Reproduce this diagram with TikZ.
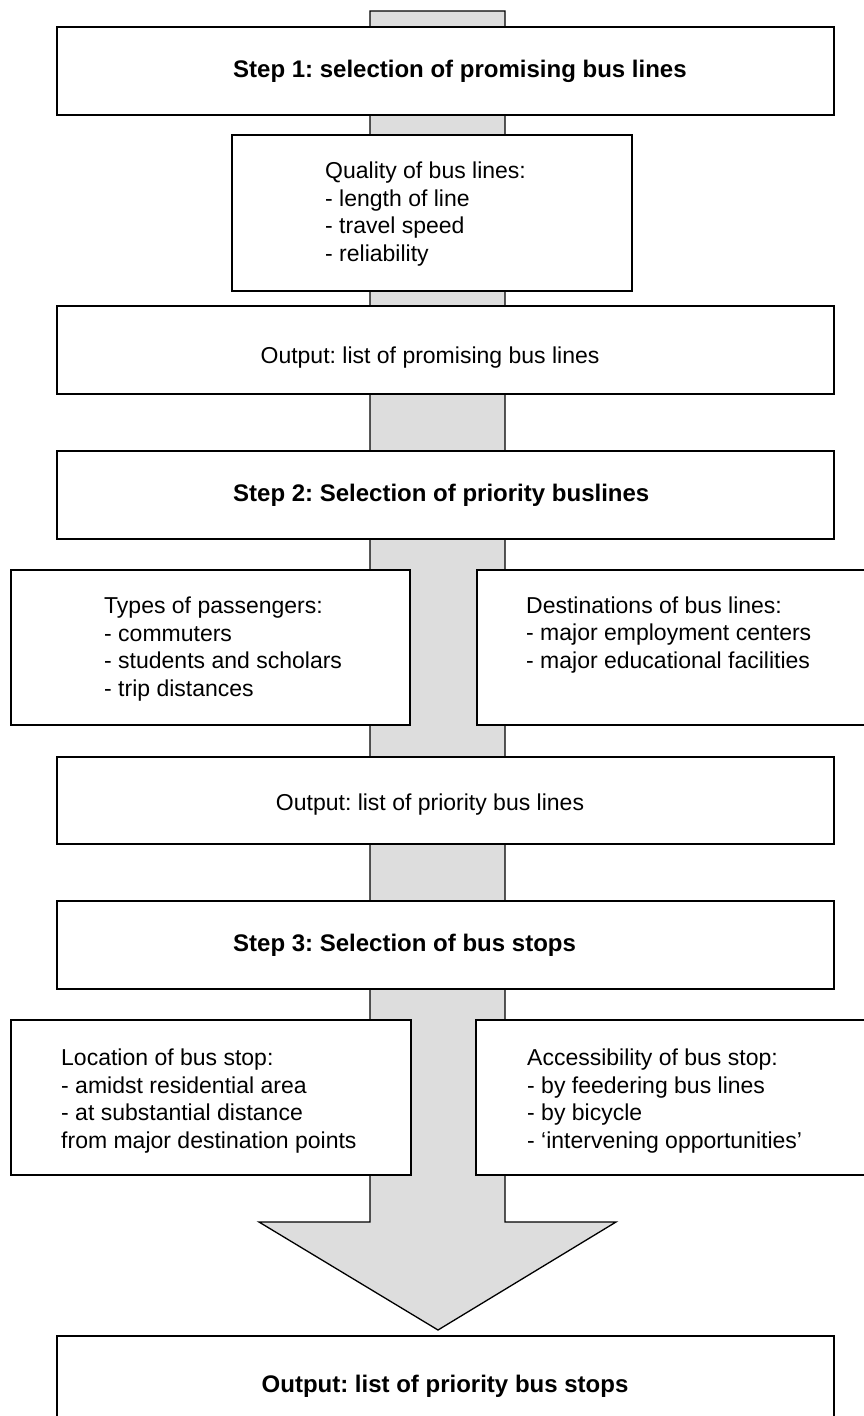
\documentclass[tikz,border=0pt]{standalone}
\usepackage{fontspec}
\setmainfont{Liberation Sans}
\definecolor{shaftgray}{RGB}{221,221,221}
\frenchspacing
\begin{document}
\begin{tikzpicture}[x=1pt,y=-1pt,
  box/.style={draw=black, line width=1.3pt, fill=white, rectangle, inner sep=0pt, outer sep=0pt, anchor=north west},
  regtxt/.style={font=\fontsize{23}{27.5}\selectfont, inner sep=0pt, align=left},
  titletxt/.style={font=\fontsize{24}{28}\selectfont\bfseries, inner sep=0pt},
  shaft/.style={draw=black, line width=1.3pt, fill=shaftgray, line join=miter}]
\useasboundingbox (0,0) rectangle (864,1416);
% big grey arrow
\draw[shaft] (370,11) -- (505,11) -- (505,1222) -- (616,1222) -- (438,1330) -- (259,1222) -- (370,1222) -- cycle;
% boxes
\node[box, minimum width=777pt, minimum height=88pt] (s1) at (57,27) {};
\node[box, minimum width=400pt, minimum height=156pt] (q) at (232,135) {};
\node[box, minimum width=777pt, minimum height=88pt] (o1) at (57,306) {};
\node[box, minimum width=777pt, minimum height=88pt] (s2) at (57,451) {};
\node[box, minimum width=399pt, minimum height=155pt] (types) at (11,570) {};
\node[box, minimum width=403pt, minimum height=155pt] (dest) at (477,570) {};
\node[box, minimum width=777pt, minimum height=87pt] (o2) at (57,757) {};
\node[box, minimum width=777pt, minimum height=88pt] (s3) at (57,901) {};
\node[box, minimum width=400pt, minimum height=155pt] (loc) at (11,1020) {};
\node[box, minimum width=404pt, minimum height=155pt] (acc) at (476,1020) {};
\node[box, minimum width=777pt, minimum height=110pt] (fin) at (57,1336) {};
% texts
\node[titletxt, anchor=west] (t1) at (233,71) {Step 1: selection of promising bus lines};
\node[regtxt, anchor=west] (tq) at (325,214) {Quality of bus lines:\\- length of line\\- travel speed\\- reliability};
\node[regtxt] (to1) at (430,358) {Output: list of promising bus lines};
\node[titletxt, anchor=west] (t2) at (233,495) {Step 2: Selection of priority buslines};
\node[regtxt, anchor=west] (ttypes) at (104,649) {Types of passengers:\\- commuters\\- students and scholars\\- trip distances};
\node[regtxt, anchor=west] (tdest) at (526,635) {Destinations of bus lines:\\- major employment centers\\- major educational facilities};
\node[regtxt] (to2) at (430,805) {Output: list of priority bus lines};
\node[titletxt, anchor=west] (t3) at (233,945) {Step 3: Selection of bus stops};
\node[regtxt, anchor=west] (tloc) at (61,1101) {Location of bus stop:\\- amidst residential area\\- at substantial distance\\from major destination points};
\node[regtxt, anchor=west] (tacc) at (527,1101) {Accessibility of bus stop:\\- by feedering bus lines\\- by bicycle\\- ‘intervening opportunities’};
\node[titletxt] (tfin) at (445,1386) {Output: list of priority bus stops};
\end{tikzpicture}
\end{document}
